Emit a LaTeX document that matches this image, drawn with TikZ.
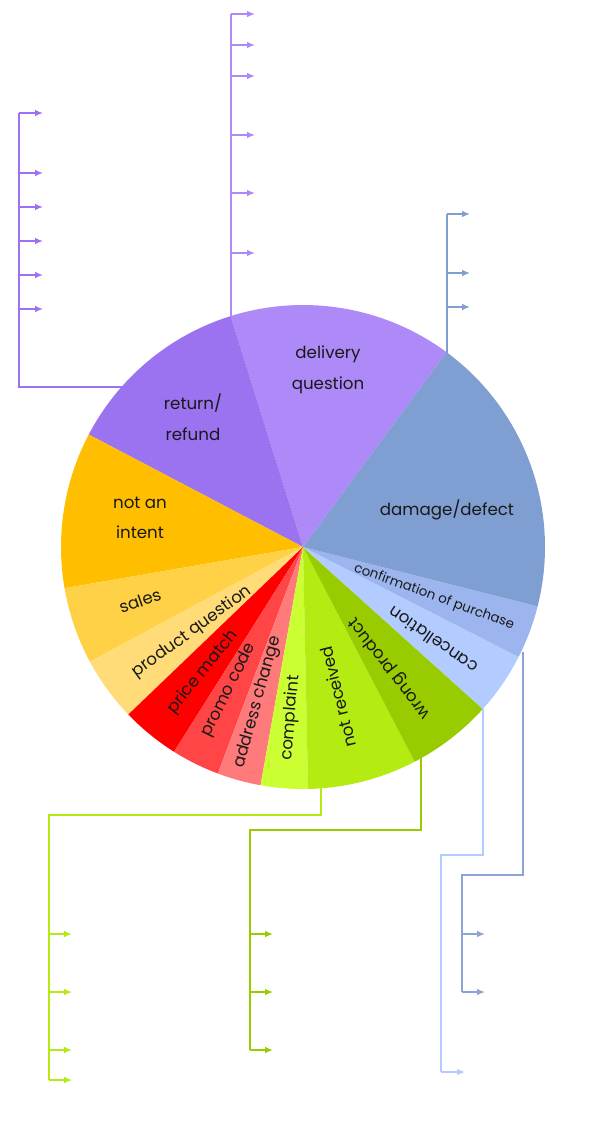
\documentclass[tikz,border=0pt]{standalone}
\usepackage{fontspec}
\setmainfont{Poppins}
\usetikzlibrary{arrows.meta}
\begin{document}
\begin{tikzpicture}[x=0.75pt,y=-0.75pt,
 lbl/.style={font=\fontsize{12.5}{23}\selectfont,text=black!90,align=center,inner sep=0},
 tree/.style={line width=1.1pt},
 arr/.style={tree,-{Latex[length=6pt,width=5pt]}}]
\useasboundingbox (0,0) rectangle (608,1122);
\coordinate (O) at (303,547);
\def\R{242}
\newcommand\slice[3]{\fill[#3] (O) -- +({cos(#1)*\R},{-sin(#1)*\R}) arc[start angle=-#1,end angle=-#2,radius=\R] -- cycle;}
\definecolor{cDel}{HTML}{AD8AF8}\definecolor{cRet}{HTML}{9B72F0}
\definecolor{cDam}{HTML}{7F9ED1}\definecolor{cConf}{HTML}{9CB5EE}
\definecolor{cCan}{HTML}{B3CCFF}\definecolor{cWro}{HTML}{99CC00}
\definecolor{cNot}{HTML}{B3EB12}\definecolor{cCom}{HTML}{CCFF33}
\definecolor{cInt}{HTML}{FFBE00}\definecolor{cSal}{HTML}{FFD147}
\definecolor{cPq}{HTML}{FFDC78}\definecolor{cPm}{HTML}{FF0000}
\definecolor{cPc}{HTML}{FF4545}\definecolor{cAc}{HTML}{FF7A7A}
\slice{53.6}{107.4}{cDel}
\slice{107.4}{152.3}{cRet}
\slice{152.3}{189.8}{cInt}
\slice{189.8}{208.3}{cSal}
\slice{208.3}{223.8}{cPq}
\slice{223.8}{237.8}{cPm}
\slice{237.8}{249.4}{cPc}
\slice{249.4}{259.9}{cAc}
\slice{259.9}{271.2}{cCom}
\slice{271.2}{297.5}{cNot}
\slice{297.5}{318}{cWro}
\slice{318}{333}{cCan}
\slice{333}{345.8}{cConf}
\slice{345.8}{413.6}{cDam}
% labels
\node[lbl] (ldel) at (328,370) {delivery\\question};
\node[lbl] (lret) at (193,417) {return/\\refund};
\node[lbl] (lnot) at (140,518) {not an\\intent};
\node[lbl] (ldam) at (447,510) {damage/defect};
\node[lbl,rotate=19] (lsal) at (140,601) {sales};
\node[lbl,rotate=36] (lpq) at (192,632) {product question};
\node[lbl,rotate=51] (lpm) at (203,672) {price match};
\node[lbl,rotate=63.6] (lpc) at (229,690) {promo code};
\node[lbl,rotate=74.6] (lac) at (258,702) {address change};
\node[lbl,rotate=85.5] (lco) at (291,718) {complaint};
\node[lbl,rotate=104] (lnr) at (338,697) {not received};
\node[lbl,rotate=127.75] (lwp) at (390,668) {wrong product};
\node[lbl,rotate=145.5] (lcan) at (433,640) {cancellation};
\node[lbl,rotate=-20,font=\fontsize{10}{12}\selectfont] (lconf) at (434,597) {confirmation of purchase};
% trees
\coordinate (r0) at (122,387); \coordinate (r1) at (19,387);
\draw[tree,cRet] (r0) -- (r1) -- (19,113);
\foreach \y/\n in {113/a,173/b,207/c,241/d,275/e,309/f}{\coordinate (rs\n) at (19,\y);\coordinate (re\n) at (43,\y);\draw[arr,cRet] (rs\n) -- (re\n);}
\coordinate (d0) at (231,317);
\draw[tree,cDel] (d0) -- (231,14);
\foreach \y/\n in {14/a,45/b,76/c,135/d,193/e,253/f}{\coordinate (ds\n) at (231,\y);\coordinate (de\n) at (255,\y);\draw[arr,cDel] (ds\n) -- (de\n);}
\coordinate (m0) at (447,353);
\draw[tree,cDam] (m0) -- (447,214);
\foreach \y/\n in {214/a,273/b,307/c}{\coordinate (ms\n) at (447,\y);\coordinate (me\n) at (470,\y);\draw[arr,cDam] (ms\n) -- (me\n);}
\coordinate (c0) at (321,786);
\draw[tree,cNot] (c0) -- (321,815) -- (49,815) -- (49,1080);
\foreach \y/\n in {934/a,992/b,1050/c,1080/d}{\coordinate (cs\n) at (49,\y);\coordinate (ce\n) at (72,\y);\draw[arr,cNot] (cs\n) -- (ce\n);}
\coordinate (w0) at (421,758);
\draw[tree,cWro] (w0) -- (421,830) -- (250,830) -- (250,1050);
\foreach \y/\n in {934/a,992/b,1050/c}{\coordinate (ws\n) at (250,\y);\coordinate (we\n) at (273,\y);\draw[arr,cWro] (ws\n) -- (we\n);}
\coordinate (f0) at (523,652);
\draw[tree,cConf!90!black] (f0) -- (523,875) -- (462,875) -- (462,992);
\foreach \y/\n in {934/a,992/b}{\coordinate (fs\n) at (462,\y);\coordinate (fe\n) at (485,\y);\draw[arr,cConf!90!black] (fs\n) -- (fe\n);}
\coordinate (k0) at (483,706);
\draw[tree,cCan] (k0) -- (483,855) -- (441,855) -- (441,1072);
\coordinate (ks) at (441,1072); \coordinate (ke) at (465,1072);
\draw[arr,cCan] (ks) -- (ke);
\end{tikzpicture}
\end{document}
